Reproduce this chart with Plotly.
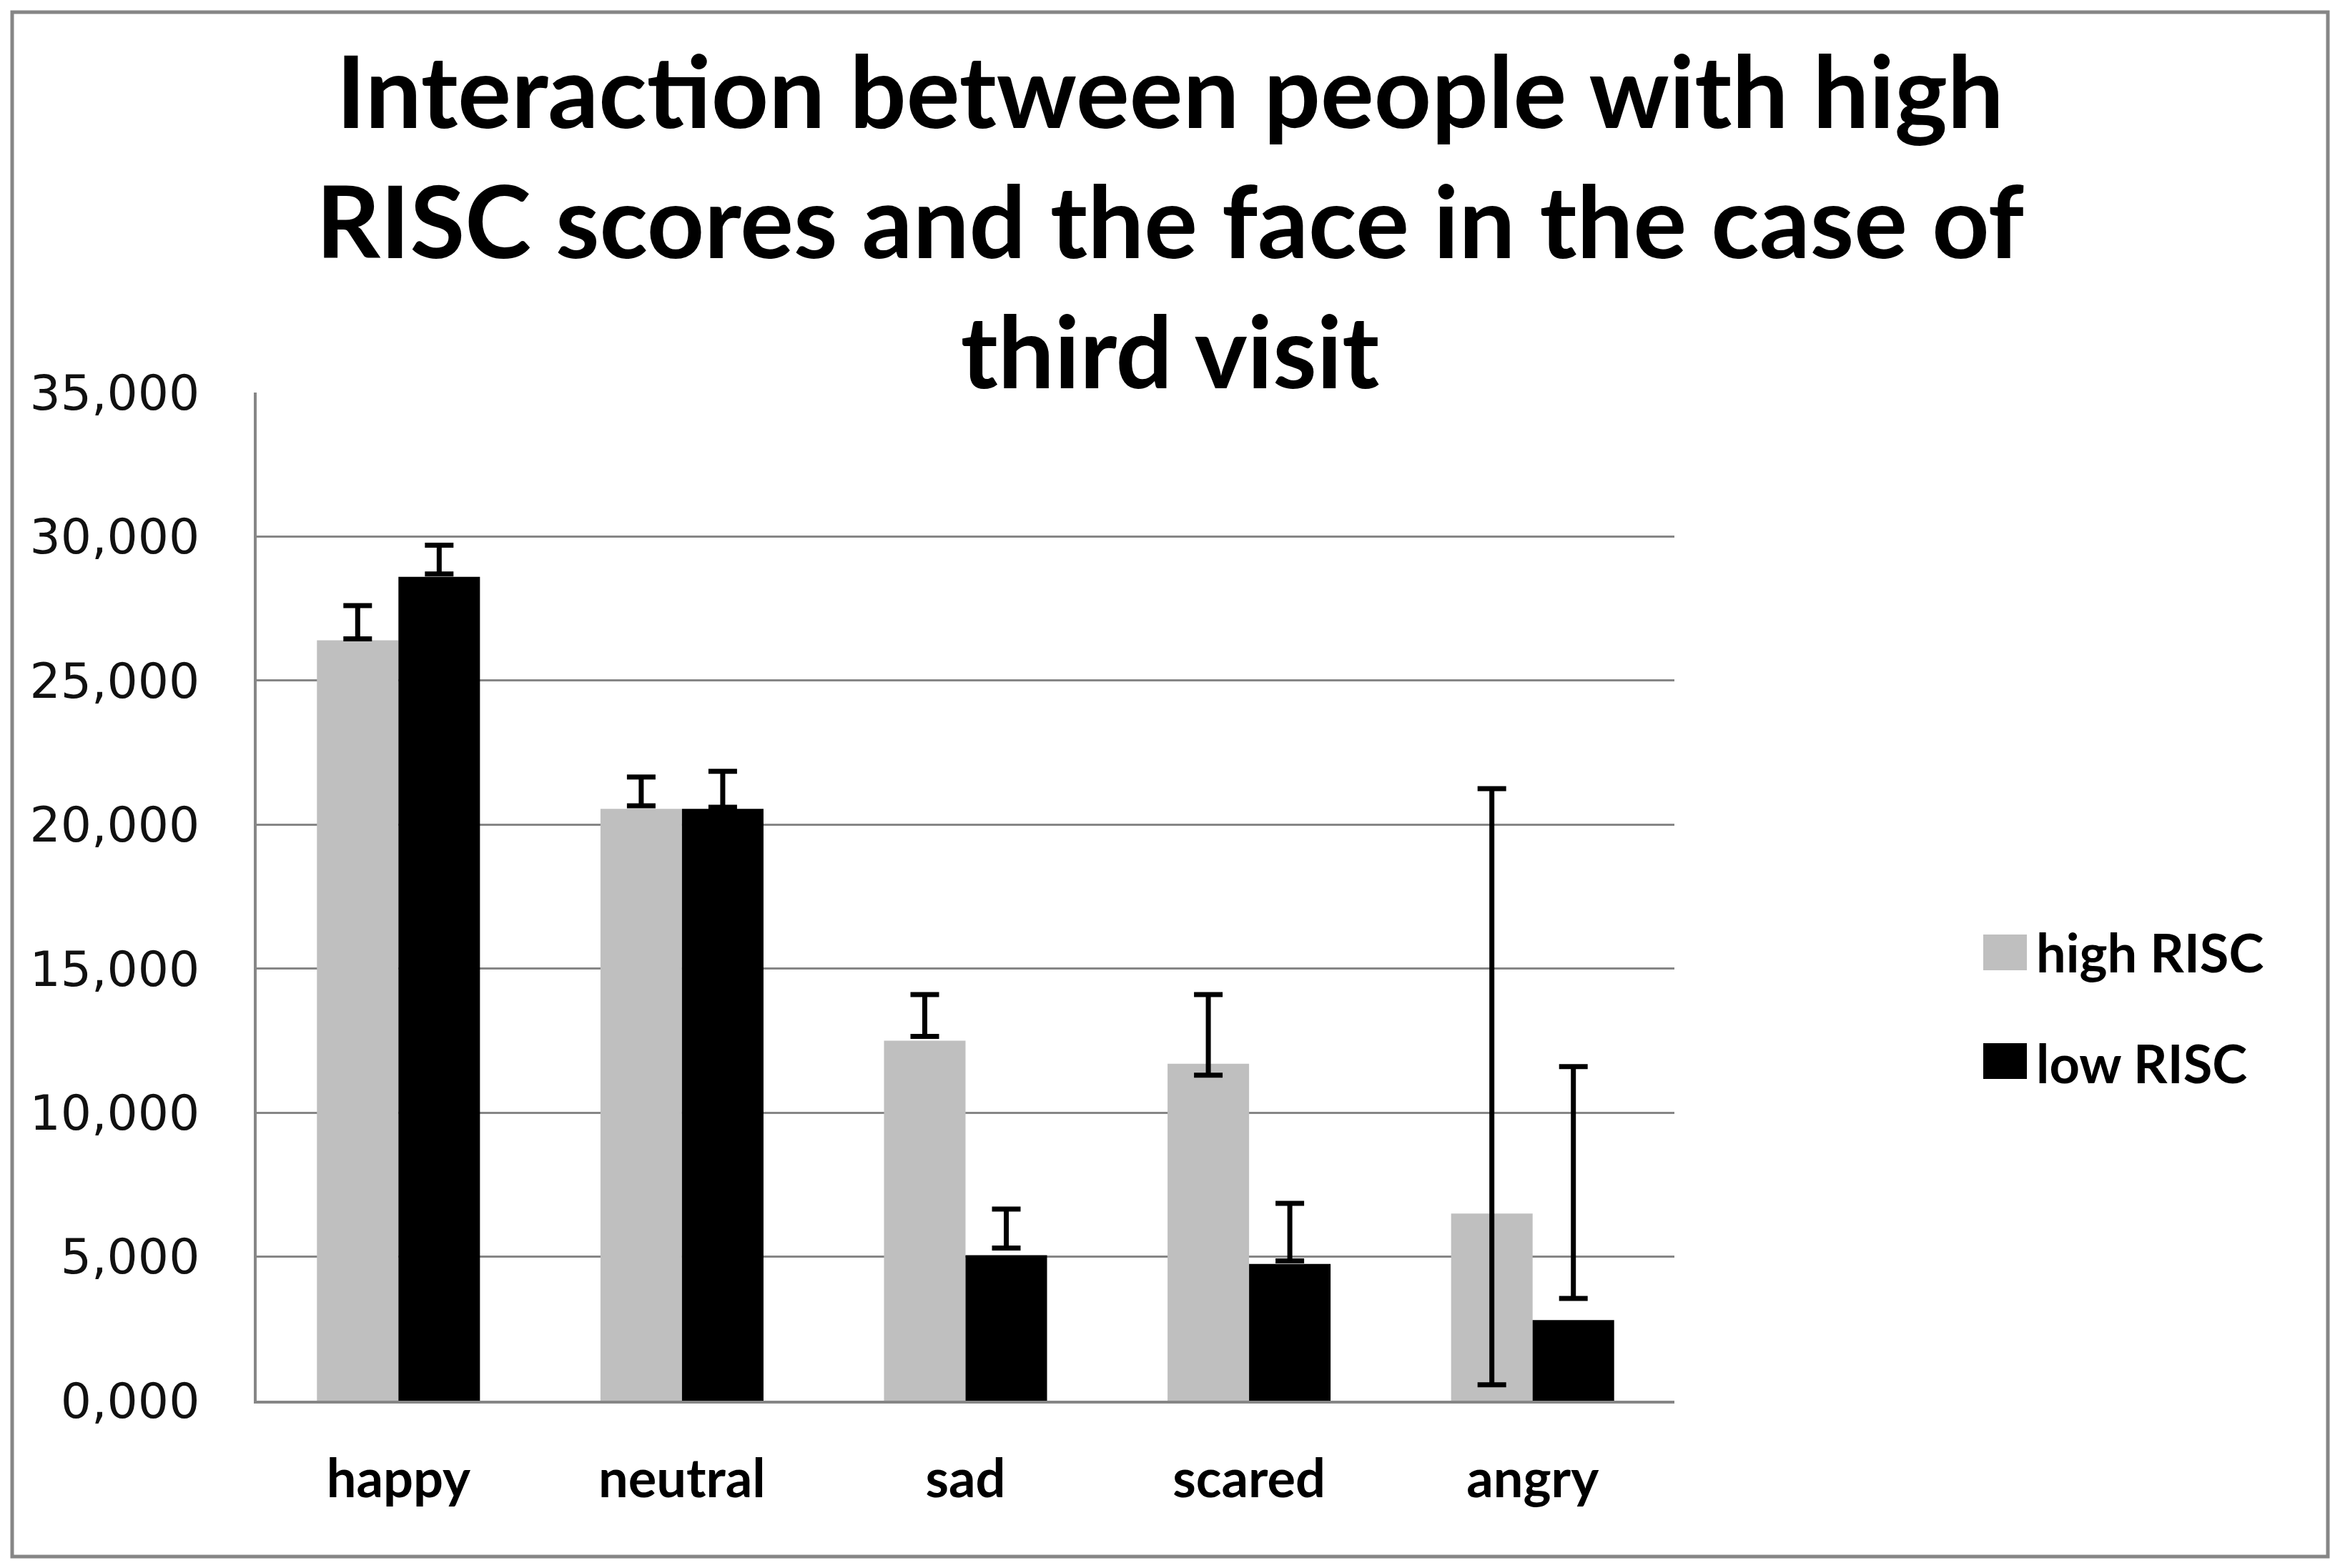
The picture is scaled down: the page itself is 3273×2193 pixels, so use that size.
import plotly.graph_objects as go

categories = ["happy", "neutral", "sad", "scared", "angry"]
high_risc = [26400, 20550, 12500, 11700, 6500]
low_risc = [28600, 20550, 5050, 4750, 2800]
high_err_lo = [26450, 20650, 12650, 11300, 550]
high_err_hi = [27600, 21650, 14100, 14100, 21250]
low_err_lo = [28700, 20600, 5300, 4850, 3550]
low_err_hi = [29700, 21850, 6650, 6850, 11600]
tick_vals = [0, 5000, 10000, 15000, 20000, 25000, 30000, 35000]
tick_text = ["0,000", "5,000", "10,000", "15,000", "20,000", "25,000", "30,000", "35,000"]
series_names = ["high RISC", "low RISC"]
series_colors = ["#BFBFBF", "#000000"]

title_text = ("Interaction between people with high<br>"
              "RISC scores and the face in the case of<br>third visit")

# page body has an 8px margin, so the figure is a bit smaller than the window
W, H = 3257, 2177
L, R, T, B = 351, 923, 541, 226
GAP = 0.425
pw, ph = W - L - R, H - T - B

fig = go.Figure()
for name, vals, col, grp in zip(series_names, [high_risc, low_risc], series_colors, ["h", "l"]):
    fig.add_trace(go.Bar(x=categories, y=vals, name=name,
                         marker=dict(color=col, line=dict(width=0)),
                         offsetgroup=grp, legendgroup=grp))

for lo, hi, grp in [(high_err_lo, high_err_hi, "h"), (low_err_lo, low_err_hi, "l")]:
    mid = [(a + b) / 2 for a, b in zip(lo, hi)]
    half = [(b - a) / 2 for a, b in zip(lo, hi)]
    fig.add_trace(go.Scatter(x=categories, y=mid, mode="markers",
                             marker=dict(size=1, opacity=0),
                             offsetgroup=grp, showlegend=False, hoverinfo="skip",
                             error_y=dict(type="data", array=half, symmetric=True,
                                          color="#000000", thickness=7, width=20)))

legend_x = (2800 - L) / pw
fig.update_layout(
    width=W, height=H, autosize=False,
    margin=dict(l=L, r=R, t=T, b=B),
    paper_bgcolor="white", plot_bgcolor="white",
    barmode="group", bargap=GAP, bargroupgap=0,
    scattermode="group", scattergap=GAP,
    title=dict(text=title_text, x=0.5, xref="container", xanchor="center",
               y=1 - 171 / H, yanchor="middle",
               font=dict(family="Lato", size=140, color="#000000", weight="bold")),
    legend=dict(x=legend_x, y=0.39, xanchor="left", yanchor="middle",
                font=dict(family="Lato", size=74, color="#000000", weight="bold"),
                traceorder="grouped", tracegroupgap=56, bgcolor="rgba(0,0,0,0)"),
    showlegend=True,
)
fig.update_xaxes(showline=True, linecolor="#868686", linewidth=4, showgrid=False,
                 ticks="", ticklabelstandoff=42,
                 tickfont=dict(family="Lato", size=74, color="#000000", weight="bold"))
fig.update_yaxes(range=[0, 35000], tickvals=tick_vals, ticktext=tick_text,
                 showline=True, linecolor="#868686", linewidth=4,
                 showgrid=True, gridcolor="#868686", gridwidth=3,
                 ticks="", ticklabelstandoff=62, zeroline=False,
                 tickfont=dict(family="DejaVu Sans", size=68, color="#111111"))

# outer chart border
fig.add_shape(type="rect", xref="paper", yref="paper",
              x0=(9 - L) / pw, x1=(W - 9 - L) / pw,
              y0=(H - B - (H - 8)) / ph, y1=(H - B - 9) / ph,
              line=dict(color="#868686", width=5), fillcolor="rgba(0,0,0,0)", layer="below")

# enlarged legend keys (plotly's own key squares are tiny at this size)
key_x0, key_x1 = (2766 - L) / pw, (2827 - L) / pw
for col, yc in zip(series_colors, [1324, 1476]):
    fig.add_shape(type="rect", xref="paper", yref="paper",
                  x0=key_x0, x1=key_x1,
                  y0=(H - B - (yc + 25)) / ph, y1=(H - B - (yc - 25)) / ph,
                  line=dict(width=0), fillcolor=col, layer="above")

fig.write_html("out.html")
